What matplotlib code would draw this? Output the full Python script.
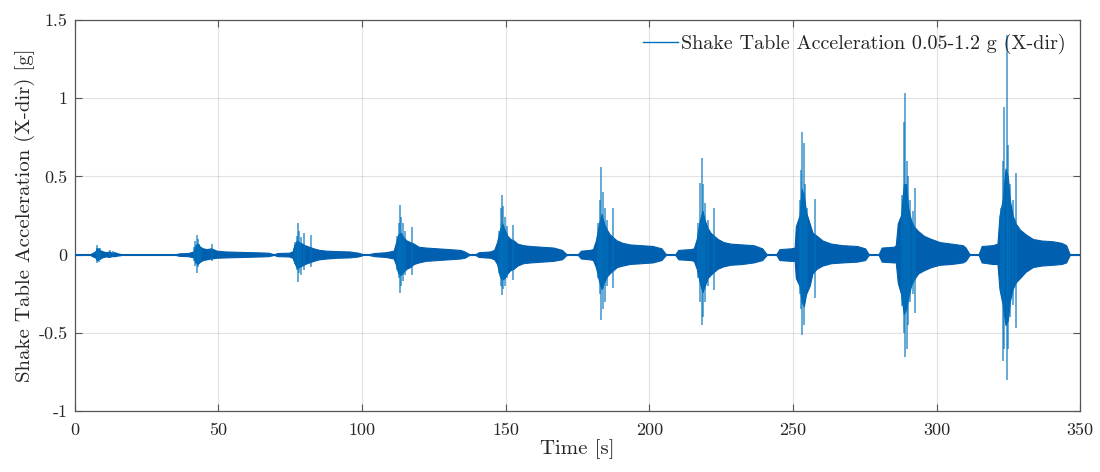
import matplotlib
matplotlib.use("Agg")
import matplotlib.pyplot as plt
from matplotlib.lines import Line2D

# ---------------- data ----------------
peak_times = [7.9, 42.4, 77.6, 113.2, 148.6, 183.2, 218.3, 253.3, 289.1, 324.5]

# envelope keypoints per burst, time offsets relative to the burst peak [s]
env_dt = [
    [-2.4, -1.6, -0.8, -0.2, 0.4, 1.2, 2.0, 3.0, 4.0, 5.0, 6.0, 7.0, 8.0],
    [-7.0, -6.0, -3, -1.0, -0.4, 0.4, 1.2, 2.2, 3.5, 5, 7, 10, 14, 18, 22, 25, 26.5],
    [-8.0, -7, -3, -1.8, -1.2, -0.3, 0.5, 1.5, 2.5, 4, 5.5, 7.5, 10, 14, 18, 21, 22.5],
    [-10.5, -9, -5, -2.2, -1.5, -0.6, 0.3, 1.2, 2.3, 3.5, 4.8, 6.5, 9, 13, 17, 21, 22.5, 24],
    [-9, -8, -4, -2.6, -1.6, -0.6, 0.2, 1.0, 2.0, 3.0, 4.2, 5.5, 7.5, 10, 14, 18, 21, 22.5],
    [-8, -7, -4, -2.8, -1.8, -0.7, 0.2, 1.0, 2.0, 3.0, 4.2, 5.5, 7.5, 10, 14, 18, 21, 22.5],
    [-9.2, -8.2, -4, -2.8, -1.8, -0.7, 0.2, 1.0, 2.0, 3.0, 4.2, 5.5, 7.5, 10, 14, 18, 21, 22.5],
    [-9, -8, -4, -2.7, -2.3, -1.0, -0.3, 0.5, 1.3, 2.5, 3.5, 5, 7, 10, 14, 19, 21.8, 23],
    [-9.2, -8.2, -4, -3.3, -2.6, -1.5, -0.5, 0.3, 1.0, 2.0, 3.0, 4.5, 6.5, 9, 12, 16, 20, 21, 22.3],
    [-9.8, -8.8, -5, -3.3, -2.6, -1.5, -0.5, 0.3, 1.0, 2.0, 3.0, 4.5, 6.5, 9, 12, 16, 19, 20.6, 21.8],
]
env_hi = [
    [.004, .012, .02, .04, .035, .025, .02, .015, .02, .012, .015, .008, .004],
    [.004, .008, .01, .02, .06, .07, .05, .04, .035, .04, .025, .02, .018, .016, .014, .012, .004],
    [.004, .01, .012, .02, .06, .09, .08, .07, .06, .05, .04, .03, .025, .022, .02, .012, .004],
    [.004, .01, .015, .025, .07, .13, .14, .11, .09, .08, .07, .05, .045, .04, .035, .03, .02, .004],
    [.004, .015, .02, .03, .08, .16, .2, .16, .12, .1, .09, .07, .06, .055, .05, .045, .03, .004],
    [.004, .025, .03, .035, .09, .2, .26, .2, .16, .13, .11, .09, .075, .065, .06, .055, .04, .004],
    [.004, .03, .035, .04, .1, .22, .28, .22, .17, .14, .12, .1, .08, .07, .065, .06, .04, .004],
    [.005, .035, .04, .045, .18, .25, .42, .38, .27, .2, .14, .12, .09, .07, .06, .055, .04, .005],
    [.005, .045, .05, .06, .2, .25, .45, .45, .3, .22, .18, .15, .12, .1, .08, .07, .06, .045, .005],
    [.005, .055, .06, .07, .25, .35, .55, .5, .35, .25, .2, .16, .13, .1, .09, .085, .075, .06, .005],
]
env_lo = [
    [-.004, -.012, -.018, -.035, -.03, -.022, -.015, -.012, -.015, -.01, -.01, -.006, -.004],
    [-.004, -.008, -.01, -.018, -.05, -.06, -.045, -.035, -.03, -.025, -.02, -.018, -.016, -.014, -.012, -.01, -.004],
    [-.004, -.01, -.012, -.02, -.05, -.085, -.08, -.07, -.06, -.05, -.04, -.03, -.025, -.02, -.018, -.012, -.004],
    [-.004, -.01, -.015, -.025, -.06, -.12, -.13, -.11, -.09, -.08, -.06, -.05, -.04, -.035, -.03, -.025, -.02, -.004],
    [-.004, -.015, -.02, -.03, -.06, -.14, -.16, -.15, -.12, -.1, -.09, -.07, -.055, -.05, -.045, -.04, -.03, -.004],
    [-.004, -.025, -.03, -.035, -.08, -.17, -.22, -.18, -.14, -.12, -.1, -.08, -.07, -.06, -.055, -.05, -.035, -.004],
    [-.004, -.03, -.035, -.04, -.09, -.18, -.24, -.2, -.15, -.13, -.11, -.09, -.075, -.065, -.06, -.05, -.035, -.004],
    [-.005, -.035, -.04, -.04, -.15, -.2, -.3, -.33, -.25, -.2, -.12, -.09, -.07, -.055, -.05, -.045, -.035, -.005],
    [-.005, -.045, -.05, -.05, -.18, -.25, -.38, -.35, -.28, -.2, -.16, -.12, -.1, -.08, -.065, -.06, -.05, -.04, -.005],
    [-.005, -.05, -.06, -.06, -.22, -.32, -.45, -.42, -.3, -.22, -.18, -.15, -.11, -.08, -.07, -.065, -.06, -.05, -.005],
]

# individual spikes per burst: offset from peak [s], max [g], min [g]
spike_dt = [
    [0, 0.4, -0.3, 1.0, 4.2, 5.3],
    [0, -0.4, 0.4, 1.0, -0.9, 5.2, 1.7],
    [0, 0.4, -0.4, 1.0, -1.0, 4.5, 2.2],
    [0, 0.4, -0.4, 1.0, -1.0, 4.1, 1.7],
    [0, -0.4, 0.4, 1.0, -1.0, 3.8, 1.8],
    [0, 0.7, -0.4, 1.2, -1.0, 4.3, 2.0],
    [0, -0.7, 0.5, 1.1, -1.2, 4.3, 2.0],
    [0, -0.5, 0.4, 0.9, -1.0, 4.4, 1.6],
    [0, -0.6, 0.5, 1.0, -1.2, 3.5, 1.8, 2.6],
    [0, -0.9, -1.5, 0.5, 1.2, 3.3, 2.2, -2.2],
]
spike_hi = [
    [.061, .045, .04, .04, .03, .022],
    [.125, .09, .10, .07, .05, .068, .05],
    [.20, .15, .12, .11, .08, .125, .138],
    [.317, .24, .20, .20, .12, .178, .15],
    [.381, .30, .31, .24, .15, .19, .18],
    [.562, .40, .35, .30, .20, .297, .22],
    [.616, .457, .45, .33, .20, .297, .22],
    [.786, .54, .71, .45, .35, .353, .30],
    [1.031, .85, .60, .50, .38, .424, .35, .28],
    [1.404, .946, .60, .70, .45, .52, .35, .30],
]
spike_lo = [
    [-.056, -.05, -.04, -.035, -.02, -.018],
    [-.12, -.07, -.08, -.06, -.04, -.04, -.04],
    [-.173, -.12, -.10, -.13, -.06, -.08, -.10],
    [-.248, -.20, -.15, -.17, -.10, -.13, -.13],
    [-.258, -.20, -.22, -.20, -.12, -.162, -.15],
    [-.418, -.35, -.25, -.30, -.15, -.215, -.20],
    [-.45, -.30, -.40, -.30, -.15, -.226, -.20],
    [-.513, -.35, -.45, -.30, -.25, -.28, -.22],
    [-.653, -.50, -.60, -.45, -.33, -.375, -.30, -.25],
    [-.80, -.60, -.68, -.60, -.40, -.47, -.32, -.25],
]

x_ticks = [0, 50, 100, 150, 200, 250, 300, 350]
x_ticklabels = ["0", "50", "100", "150", "200", "250", "300", "350"]
y_ticks = [-1, -0.5, 0, 0.5, 1, 1.5]
y_ticklabels = ["-1", "-0.5", "0", "0.5", "1", "1.5"]

legend_label = "Shake Table Acceleration 0.05-1.2 g (X-dir)"
x_label = "Time [s]"
y_label = "Shake Table Acceleration (X-dir) [g]"

# ---------------- plotting ----------------
plt.rcParams["font.family"] = ["cmr10", "DejaVu Serif"]
plt.rcParams["axes.unicode_minus"] = False

LINE = "#0072BD"
BODY = "#005FAF"
TXT = "#262626"

fig = plt.figure(figsize=(11.0, 4.72), dpi=100)
ax = fig.add_axes([0.068, 0.129, 0.914, 0.829])

ax.plot([0, 350], [0, 0], color=BODY, lw=1.5, zorder=3)

for k, tp in enumerate(peak_times):
    t = [tp + d for d in env_dt[k]]
    ax.fill_between(t, env_lo[k], env_hi[k], color=BODY, lw=0.8,
                    edgecolor=BODY, zorder=3)
    st = [tp + d for d in spike_dt[k]]
    ax.vlines(st, spike_lo[k], spike_hi[k], color=LINE, lw=1.2,
              alpha=0.7, zorder=4)

ax.set_xlim(0, 350)
ax.set_ylim(-1, 1.5)
ax.set_xticks(x_ticks)
ax.set_xticklabels(x_ticklabels)
ax.set_yticks(y_ticks)
ax.set_yticklabels(y_ticklabels)

ax.grid(True, color="#262626", alpha=0.13, lw=0.8)
ax.set_axisbelow(True)
for s in ax.spines.values():
    s.set_color("#555555")
    s.set_linewidth(0.9)
ax.tick_params(direction="in", top=True, right=True, length=5, width=0.8,
               color="#555555", labelcolor=TXT, labelsize=13)
ax.tick_params(axis="y", pad=5)
ax.tick_params(axis="x", pad=8)

ax.set_xlabel(x_label, fontsize=15, color=TXT, labelpad=1)
ax.set_ylabel(y_label, fontsize=15, color=TXT, labelpad=3)

handle = Line2D([], [], color=LINE, lw=1.0)
ax.legend([handle], [legend_label], loc="upper right", frameon=False,
          fontsize=14.5, handlelength=1.75, handletextpad=0.15,
          borderaxespad=0.3, labelcolor=TXT)

fig.savefig("out.png", dpi=100)
